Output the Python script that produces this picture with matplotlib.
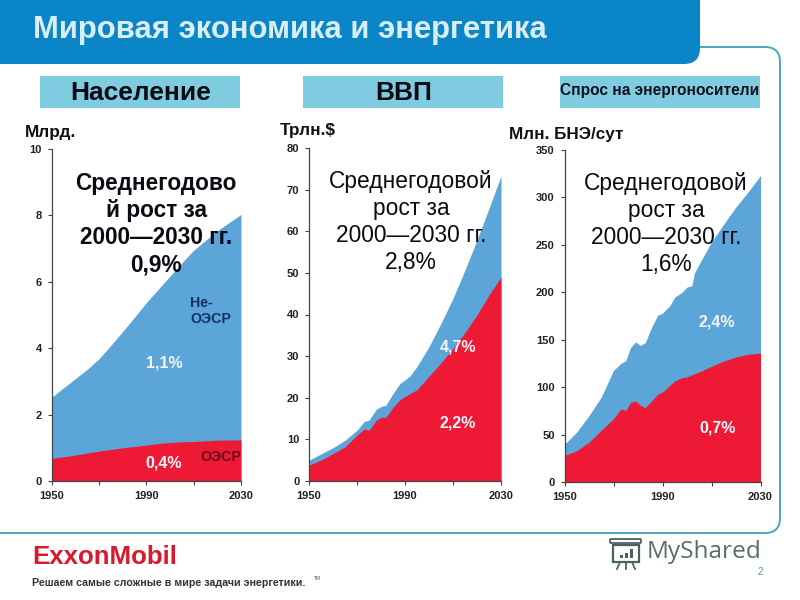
# -*- coding:utf-8 -*-

import matplotlib
matplotlib.use('Agg')
import matplotlib.pyplot as plt
from matplotlib.patches import FancyBboxPatch, Rectangle, PathPatch
from matplotlib.path import Path

plt.rcParams['font.family'] = ['Liberation Sans', 'DejaVu Sans']

BLUE = '#5ca5d9'
RED = '#ee1a35'
HEAD = '#0a86c8'
BOX = '#7fcbe0'
FRAME = '#4ba5bf'

years_pop = [1950, 1955, 1960, 1965, 1970, 1975, 1980, 1985, 1990, 1995, 2000, 2005, 2010, 2020, 2030]
oecd_pop = [0.68, 0.73, 0.78, 0.84, 0.90, 0.95, 1.00, 1.04, 1.08, 1.13, 1.16, 1.18, 1.19, 1.23, 1.24]
total_pop = [2.52, 2.8, 3.08, 3.36, 3.68, 4.08, 4.5, 4.93, 5.37, 5.77, 6.17, 6.57, 6.95, 7.54, 8.03]

years_gdp = [1950, 1955, 1960, 1965, 1970, 1973, 1975, 1978, 1980, 1982, 1985, 1988, 1990, 1992,
             1995, 2000, 2005, 2010, 2015, 2020, 2025, 2030]
oecd_gdp = [3.8, 5, 6.6, 8.2, 11, 12.5, 12.2, 14.6, 15.3, 15.3, 17.7, 19.6, 20.3, 21,
            21.9, 25.2, 28.4, 31.9, 35.7, 39.9, 44.7, 49]
total_gdp = [5, 6.5, 8, 9.8, 12.2, 14.3, 14.6, 17.2, 17.9, 18.2, 21, 23.5, 24.3, 25.2,
             27.5, 32.3, 37.9, 43.9, 50.7, 57.9, 65.5, 73.3]

years_en = [1950, 1955, 1960, 1965, 1970, 1973, 1975, 1977, 1979, 1981, 1983, 1985, 1988, 1990,
            1993, 1995, 1998, 2000, 2002, 2003, 2005, 2010, 2015, 2020, 2025, 2030]
oecd_en = [28, 33, 42, 54.5, 66.8, 77, 75.5, 84, 85.4, 81, 78.4, 84, 92.4, 94.9,
           102, 106.5, 110, 110.7, 113, 114, 116, 122, 127.5, 131.8, 134.6, 136]
total_en = [39.7, 52.7, 70, 89.6, 117.7, 125, 128, 142, 147.6, 144, 147, 160, 175.7, 178,
            186, 195, 200, 205.5, 207, 220, 230, 253, 272, 290, 306, 323]

W, H = 800.0, 600.0


def make_axes(x0, x1, ytop, ybot):
    return plt.axes([x0 / W, 1 - ybot / H, (x1 - x0) / W, (ybot - ytop) / H])


def area_chart(ax, years, oecd, total, ymax, step):
    ax.fill_between(years, 0, total, color=BLUE, lw=0)
    ax.fill_between(years, 0, oecd, color=RED, lw=0)
    ax.set_xlim(1950, 2030)
    ax.set_ylim(0, ymax)
    ax.set_xticks([1950, 1970, 1990, 2010, 2030])
    ax.set_xticklabels(['1950', '', '1990', '', '2030'])
    ax.set_yticks(range(0, ymax + 1, step))
    ax.spines['top'].set_visible(False)
    ax.spines['right'].set_visible(False)
    for s in ['left', 'bottom']:
        ax.spines[s].set_color('#444444')
        ax.spines[s].set_linewidth(0.9)
    ax.tick_params(axis='both', length=3, width=0.8, color='#444444', labelsize=8, pad=4)
    for t in ax.get_xticklabels() + ax.get_yticklabels():
        t.set_fontweight('bold')
        t.set_color('#222222')
    ax.patch.set_alpha(0)


fig = plt.figure(figsize=(8, 6), dpi=100, facecolor='white')

# page layer in pixel coordinates
bg = plt.axes([0, 0, 1, 1])
bg.set_xlim(0, W)
bg.set_ylim(H, 0)
bg.axis('off')

frame = Path([(690, 47), (765, 47), (780, 47), (780, 62), (780, 518), (780, 533), (765, 533), (0, 533)],
             [Path.MOVETO, Path.LINETO, Path.CURVE3, Path.CURVE3, Path.LINETO, Path.CURVE3, Path.CURVE3, Path.LINETO])
bg.add_patch(PathPatch(frame, fc='none', ec=FRAME, lw=1.4))
banner = Path([(0, 0), (700, 0), (700, 48), (700, 64), (684, 64), (0, 64), (0, 0)],
              [Path.MOVETO, Path.LINETO, Path.LINETO, Path.CURVE3, Path.CURVE3, Path.LINETO, Path.CLOSEPOLY])
bg.add_patch(PathPatch(banner, fc=HEAD, ec='none'))
for bx in [40, 303, 560]:
    bg.add_patch(Rectangle((bx, 76), 200, 31.5, fc=BOX, ec='none'))

bg.text(33, 30, 'Мировая экономика и энергетика', color='#d9eef8', fontsize=22.3,
        fontweight='bold', va='center', ha='left')
bg.text(140.5, 93, 'Население', fontsize=19, fontweight='bold', ha='center', va='center', color='#0b0b14')
bg.text(404, 93, 'ВВП', fontsize=19, fontweight='bold', ha='center', va='center', color='#0b0b14')
bg.text(660, 91, 'Спрос на энергоносители', fontsize=11.2, fontweight='bold', ha='center', va='center', color='#101020')

bg.text(25, 132, 'Млрд.', fontsize=12.4, fontweight='bold', ha='left', va='center', color='#111111')
bg.text(280, 130, 'Трлн.$', fontsize=12.4, fontweight='bold', ha='left', va='center', color='#111111')
bg.text(509, 135, 'Млн. БНЭ/сут', fontsize=12.3, fontweight='bold', ha='left', va='center', color='#111111')

# footer
bg.text(32, 557, 'ExxonMobil', fontsize=18.6, fontweight='bold', color='#d8192e', ha='left', va='center')
bg.text(32, 583, 'Решаем самые сложные в мире задачи энергетики.', fontsize=7.7, fontweight='bold',
        color='#333333', ha='left', va='center')
bg.text(314, 578, 'TM', fontsize=3.5, color='#555555', ha='left', va='center')
bg.text(647, 552, 'MyShared', fontsize=17.6, color='#5b6b6b', ha='left', va='center',
        family=['Open Sans', 'DejaVu Sans'])
bg.text(760, 572, '2', fontsize=7, color='#4a90b8', ha='center', va='center')
# small board icon of the watermark
bg.add_patch(Rectangle((613, 545), 26, 17, fc='none', ec='#4d5f5f', lw=1.6))
bg.add_patch(FancyBboxPatch((611, 540), 29, 2, boxstyle='round,pad=1', fc='none', ec='#4d5f5f', lw=1.3))
for bar_x, bar_h in [(620, 3), (625, 5), (630, 9)]:
    bg.add_patch(Rectangle((bar_x, 558 - bar_h), 3, bar_h, fc='#4d5f5f', ec='none'))
bg.plot([620, 617], [562, 569], color='#4d5f5f', lw=1.3)
bg.plot([626, 626], [562, 569], color='#4d5f5f', lw=1.3)
bg.plot([632, 635], [562, 569], color='#4d5f5f', lw=1.3)

ax1 = make_axes(51.5, 241, 149, 481)
area_chart(ax1, years_pop, oecd_pop, total_pop, 10, 2)
ax2 = make_axes(309, 501, 148, 481)
area_chart(ax2, years_gdp, oecd_gdp, total_gdp, 80, 10)
ax3 = make_axes(564.5, 760.5, 150, 482)
area_chart(ax3, years_en, oecd_en, total_en, 350, 50)

# text over the charts
top = plt.axes([0, 0, 1, 1])
top.set_xlim(0, W)
top.set_ylim(H, 0)
top.axis('off')
top.patch.set_alpha(0)

top.text(156, 224, 'Среднегодово\nй рост за\n2000—2030 гг.\n0,9%', fontsize=16.3, fontweight='bold',
         ha='center', va='center', linespacing=1.24, color='#0a0a12')
top.text(411, 222, 'Среднегодовой\nрост за\n2000—2030 гг.\n2,8%', fontsize=16.4,
         ha='center', va='center', linespacing=1.24, color='#0a0a12')
top.text(666, 224, 'Среднегодовой\nрост за\n2000—2030 гг.\n1,6%', fontsize=16.4,
         ha='center', va='center', linespacing=1.24, color='#0a0a12')

for tx, ty, s in [(164, 363, '1,1%'), (164, 463, '0,4%'), (458, 347, '4,7%'), (458, 423, '2,2%'),
                  (717, 322, '2,4%'), (718, 428, '0,7%')]:
    top.text(tx, ty, s, fontsize=11.5, fontweight='bold', color='#f2f6fa', ha='center', va='center')

top.text(190, 311, 'Не-\nОЭСР', fontsize=10.2, fontweight='bold', color='#12305f', ha='left', va='center', linespacing=1.25)
top.text(200, 457, 'ОЭСР', fontsize=10.2, fontweight='bold', color='#6b0a14', ha='left', va='center')

fig.savefig('out.png', dpi=100)
